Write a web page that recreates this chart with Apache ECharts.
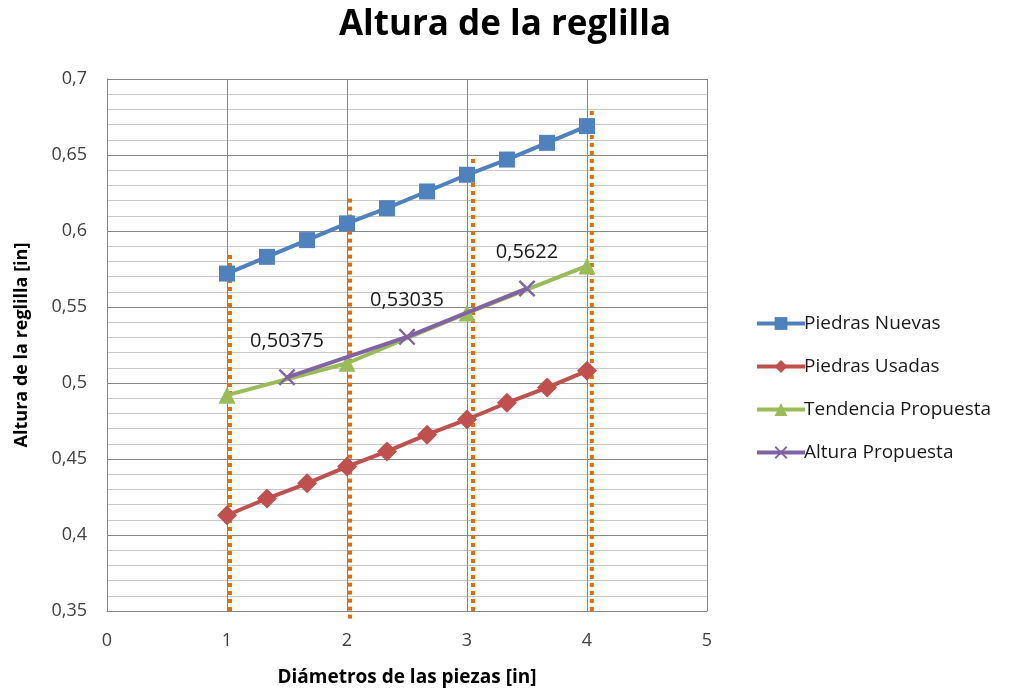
<!DOCTYPE html>
<html>
<head>
<meta charset="utf-8">
<script src="https://cdn.jsdelivr.net/npm/echarts@6/dist/echarts.min.js"></script>
<style>
  html, body { margin: 0; padding: 0; background: #fff; }
  #chart { width: 1011px; height: 692px; }
</style>
</head>
<body>
<div id="chart"></div>
<script>
// datos
var xPiedras = [1, 1.333, 1.667, 2, 2.333, 2.667, 3, 3.333, 3.667, 4];
var piedrasNuevas = [0.572, 0.583, 0.594, 0.605, 0.615, 0.626, 0.637, 0.647, 0.658, 0.669];
var piedrasUsadas = [0.413, 0.424, 0.434, 0.445, 0.455, 0.466, 0.476, 0.487, 0.497, 0.508];
var xTendencia = [1, 2, 3, 4];
var tendenciaPropuesta = [0.492, 0.513, 0.546, 0.577];
var xAltura = [1.5, 2.5, 3.5];
var alturaPropuesta = [0.50375, 0.53035, 0.5622];
// lineas punteadas naranjas (x, altura inferior, altura superior)
var xGuias = [1.025, 2.025, 3.05, 4.04];
var bajoGuias = [0.35, 0.345, 0.35, 0.35];
var topGuias = [0.586, 0.622, 0.65, 0.68];

function pares(xs, ys) {
  return xs.map(function (x, i) { return [x, ys[i]]; });
}
function coma(v) {
  return String(v).replace('.', ',');
}

var fuente = "'Open Sans', 'Noto Sans', sans-serif";
var cruz = 'path://M0,1L1,0L5,4L9,0L10,1L6,5L10,9L9,10L5,6L1,10L0,9L4,5Z';

var myChart = echarts.init(document.getElementById('chart'));

var series = [];
// guias verticales
for (var i = 0; i < xGuias.length; i++) {
  series.push({
    name: 'guia' + i,
    type: 'line',
    symbol: 'none',
    silent: true,
    clip: false,
    z: 3,
    data: [[xGuias[i], bajoGuias[i]], [xGuias[i], topGuias[i]]],
    lineStyle: { color: '#e46c0a', width: 4, type: [4, 4], cap: 'butt' }
  });
}

series.push({
  name: 'Piedras Nuevas',
  type: 'line',
  z: 4,
  data: pares(xPiedras, piedrasNuevas),
  symbol: 'rect',
  symbolSize: 16,
  itemStyle: { color: '#4f81bd' },
  lineStyle: { color: '#4f81bd', width: 4 }
});
series.push({
  name: 'Piedras Usadas',
  type: 'line',
  z: 4,
  data: pares(xPiedras, piedrasUsadas),
  symbol: 'diamond',
  symbolSize: 20,
  itemStyle: { color: '#c0504d' },
  lineStyle: { color: '#c0504d', width: 4 }
});
series.push({
  name: 'Tendencia Propuesta',
  type: 'line',
  z: 4,
  data: pares(xTendencia, tendenciaPropuesta),
  symbol: 'triangle',
  symbolSize: 17,
  itemStyle: { color: '#9bbb59' },
  lineStyle: { color: '#9bbb59', width: 4 }
});
series.push({
  name: 'Altura Propuesta',
  type: 'line',
  z: 5,
  data: pares(xAltura, alturaPropuesta),
  symbol: cruz,
  symbolSize: 17,
  itemStyle: { color: '#8064a2' },
  lineStyle: { color: '#8064a2', width: 4 },
  label: {
    show: true,
    position: 'top',
    distance: 18,
    color: '#1a1a1a',
    fontFamily: fuente,
    fontSize: 20,
    formatter: function (p) { return coma(p.value[1]); }
  }
});

var option = {
  backgroundColor: '#fff',
  animation: false,
  title: {
    text: 'Altura de la reglilla',
    left: 500,
    textAlign: 'center',
    top: 3,
    textStyle: { fontFamily: fuente, fontSize: 35, fontWeight: 'bold', color: '#000' }
  },
  legend: {
    orient: 'vertical',
    left: 750,
    top: 309,
    itemWidth: 48,
    itemHeight: 16,
    itemGap: 24,
    lineStyle: { width: 4 },
    data: ['Piedras Nuevas', 'Piedras Usadas', 'Tendencia Propuesta', 'Altura Propuesta'],
    textStyle: { fontFamily: fuente, fontSize: 19, color: '#1a1a1a', padding: [0, 0, 0, -6] }
  },
  grid: { left: 107, right: 304, top: 79, bottom: 80 },
  xAxis: {
    type: 'value',
    min: 0,
    max: 5,
    interval: 1,
    name: 'Diámetros de las piezas [in]',
    nameLocation: 'middle',
    nameGap: 57,
    nameTextStyle: { fontFamily: fuente, fontSize: 19, fontWeight: 'bold', color: '#000' },
    axisLine: { show: true, lineStyle: { color: '#868686' } },
    axisTick: { show: false },
    axisLabel: { margin: 21, fontFamily: fuente, fontSize: 18, color: '#404040' },
    splitLine: { show: true, lineStyle: { color: '#868686', width: 1 } }
  },
  yAxis: {
    type: 'value',
    min: 0.35,
    max: 0.7,
    interval: 0.05,
    name: 'Altura de la reglilla [in]',
    nameLocation: 'middle',
    nameGap: 76,
    nameTextStyle: { fontFamily: fuente, fontSize: 18, fontWeight: 'bold', color: '#000' },
    axisLine: { show: true, lineStyle: { color: '#868686' } },
    axisTick: { show: false },
    minorTick: { show: false, splitNumber: 5 },
    minorSplitLine: { show: true, lineStyle: { color: '#c8c8c8', width: 1 } },
    axisLabel: {
      margin: 20,
      fontFamily: fuente,
      fontSize: 18,
      color: '#404040',
      formatter: function (v) { return coma(Math.round(v * 100) / 100); }
    },
    splitLine: { show: true, lineStyle: { color: '#868686', width: 1 } }
  },
  series: series
};

myChart.setOption(option);
</script>
</body>
</html>
